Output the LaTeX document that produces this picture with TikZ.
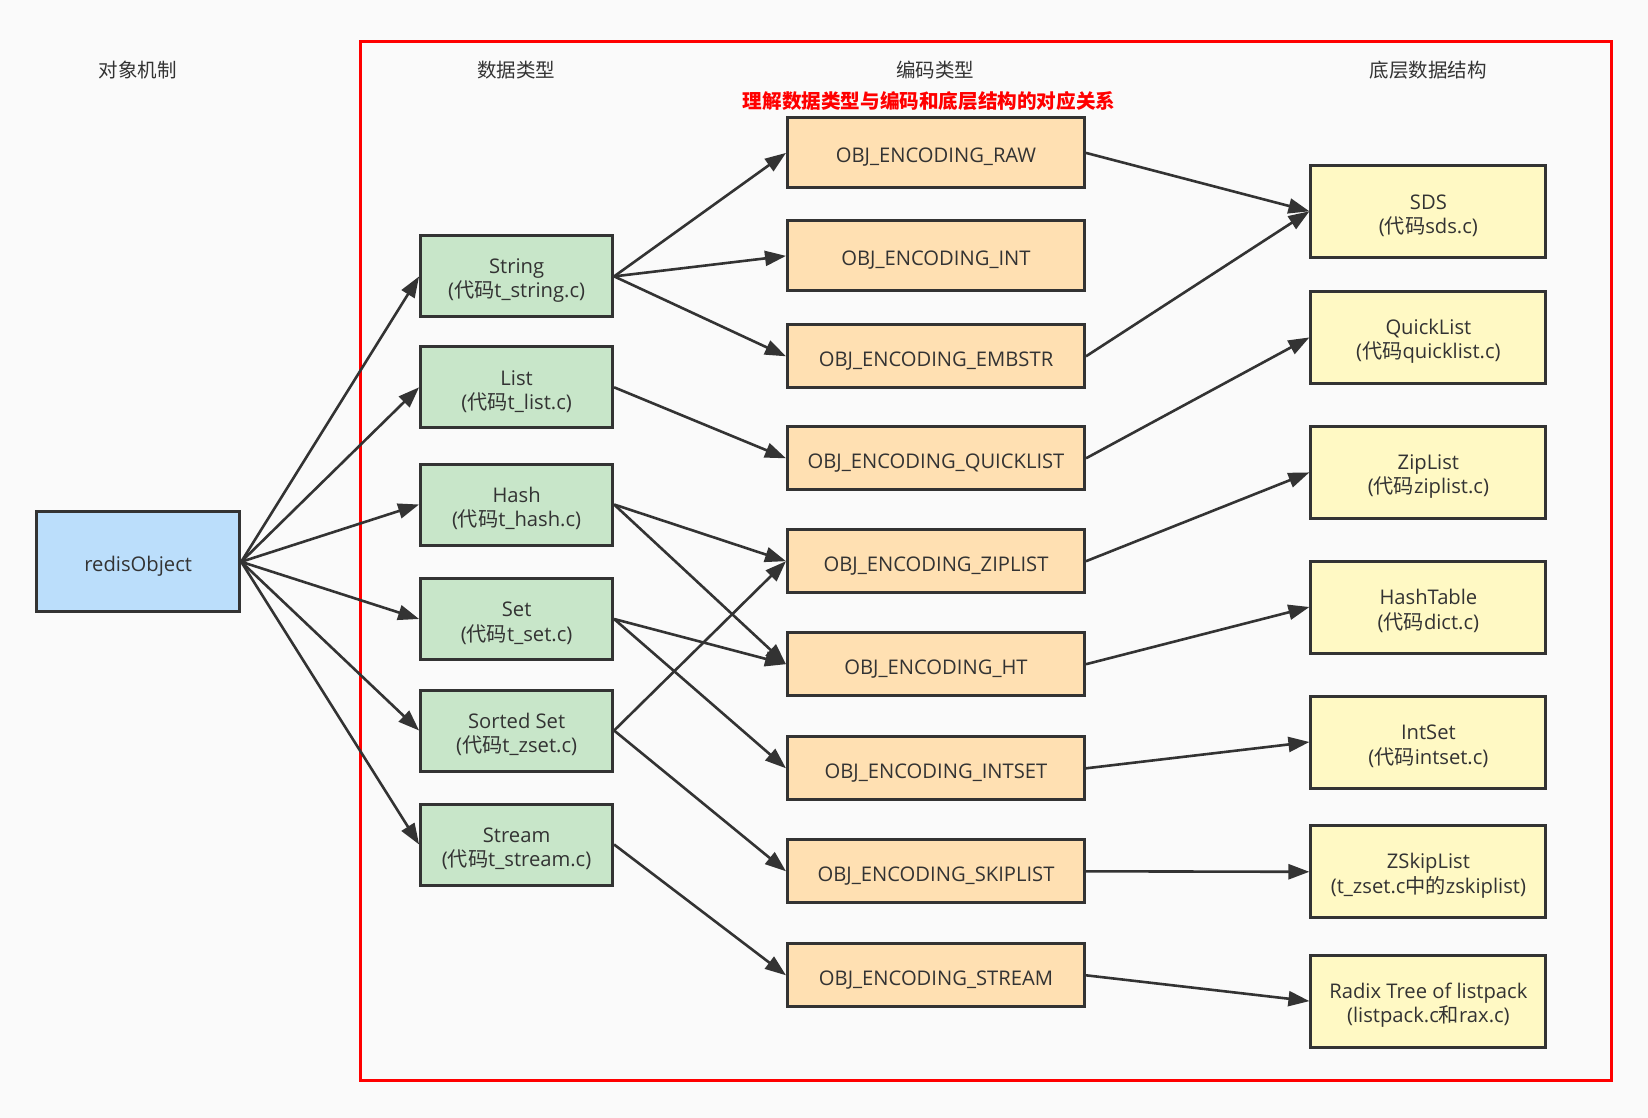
\documentclass[tikz,border=0pt]{standalone}
\usepackage{fontspec}
\setmainfont{Open Sans}
\newfontfamily\cjk{Noto Sans CJK SC}
\usetikzlibrary{arrows.meta}

\definecolor{bgcol}{HTML}{FAFAFA}
\definecolor{ink}{HTML}{333333}
\definecolor{objfill}{HTML}{BBDEFB}
\definecolor{typefill}{HTML}{C8E6C9}
\definecolor{encfill}{HTML}{FFE0B2}
\definecolor{structfill}{HTML}{FFF9C4}
\definecolor{frame}{HTML}{FF0000}

\newcommand{\zh}[1]{{\cjk #1}}
% strut that gives every first text line the same height
\newcommand{\toprow}{\rule{0pt}{23.5pt}}
\newcommand{\twolines}[2]{\toprow#1\\#2}

\begin{document}
\begin{tikzpicture}[x=1pt,y=-1pt,
  box/.style={draw=ink, line width=3pt, align=center, text=ink,
    font=\fontsize{20.2}{24.5}\selectfont, inner sep=0pt},
  objbox/.style={box, fill=objfill, minimum width=203pt, minimum height=100pt},
  typebox/.style={box, fill=typefill, minimum width=192pt, minimum height=81pt},
  encbox/.style={box, fill=encfill, minimum width=297pt, minimum height=63pt},
  structbox/.style={box, fill=structfill, minimum width=235pt, minimum height=92pt},
  header/.style={text=ink, font=\cjk\fontsize{19.5}{22}\selectfont, inner sep=0pt},
  link/.style={draw=ink, line width=2.6pt, -{Triangle[length=21pt,width=15pt]}}
]
\fill[bgcol] (0,0) rectangle (1648,1118);
\useasboundingbox (0,0) rectangle (1648,1118);

% group frame
\draw[frame, line width=3pt] (360.5,42) rectangle (1611,1080.5);

% column headers
\node[header] (h1) at (137.7,70.4) {对象机制};
\node[header] (h2) at (516,70.4) {数据类型};
\node[header] (h3) at (935.4,70.4) {编码类型};
\node[header] (h4) at (1428.3,70.4) {底层数据结构};
\node[text=frame, font=\cjk\bfseries\fontsize{19.6}{22}\selectfont, inner sep=0pt]
  (note) at (929,100.9) {理解数据类型与编码和底层结构的对应关系};

% object
\node[objbox] (obj) at (138.2,561.8) {\toprow redisObject};

% data types
\node[typebox] (str)  at (516.6,276.4) {\twolines{String}{(\zh{代码}t\_string.c)}};
\node[typebox] (lst)  at (516.6,387.3) {\twolines{List}{(\zh{代码}t\_list.c)}};
\node[typebox] (hsh)  at (516.6,504.5) {\twolines{Hash}{(\zh{代码}t\_hash.c)}};
\node[typebox] (set)  at (516.6,619.0) {\twolines{Set}{(\zh{代码}t\_set.c)}};
\node[typebox] (zst)  at (516.6,730.5) {\twolines{Sorted Set}{(\zh{代码}t\_zset.c)}};
\node[typebox] (stm)  at (516.6,844.5) {\twolines{Stream}{(\zh{代码}t\_stream.c)}};

% encodings
\node[encbox, minimum height=70pt] (eraw) at (936,152.9) {\toprow OBJ\_ENCODING\_RAW};
\node[encbox, minimum height=70pt] (eint) at (936,255.9) {\toprow OBJ\_ENCODING\_INT};
\node[encbox] (eemb) at (936,356.3) {\toprow OBJ\_ENCODING\_EMBSTR};
\node[encbox] (equl) at (936,458.3) {\toprow OBJ\_ENCODING\_QUICKLIST};
\node[encbox] (ezip) at (936,561.2) {\toprow OBJ\_ENCODING\_ZIPLIST};
\node[encbox] (eht)  at (936,664.2) {\toprow OBJ\_ENCODING\_HT};
\node[encbox] (eins) at (936,768.3) {\toprow OBJ\_ENCODING\_INTSET};
\node[encbox] (eskp) at (936,871.3) {\toprow OBJ\_ENCODING\_SKIPLIST};
\node[encbox] (estm) at (936,975.3) {\toprow OBJ\_ENCODING\_STREAM};

% underlying structures
\node[structbox] (sds)  at (1428.4,211.3) {\twolines{SDS}{(\zh{代码}sds.c)}};
\node[structbox] (sql)  at (1428.4,337.4) {\twolines{QuickList}{(\zh{代码}quicklist.c)}};
\node[structbox] (szl)  at (1428.4,472.4) {\twolines{ZipList}{(\zh{代码}ziplist.c)}};
\node[structbox] (sht)  at (1428.4,607.0) {\twolines{HashTable}{(\zh{代码}dict.c)}};
\node[structbox] (sis)  at (1428.4,742.0) {\twolines{IntSet}{(\zh{代码}intset.c)}};
\node[structbox] (ssk)  at (1428.4,871.8) {\twolines{ZSkipList}{(t\_zset.c\zh{中的}zskiplist)}};
\node[structbox] (srx)  at (1428.4,1001.1) {\twolines{Radix Tree of listpack}{(listpack.c\zh{和}rax.c)}};

% object -> data types
\foreach \t in {str,lst,hsh,set,zst,stm}
  \draw[link] (obj.east) -- (\t.west);

% data types -> encodings
\draw[link] (str.east) -- (eraw.west);
\draw[link] (str.east) -- (eint.west);
\draw[link] (str.east) -- (eemb.west);
\draw[link] (lst.east) -- (equl.west);
\draw[link] (hsh.east) -- (ezip.west);
\draw[link] (hsh.east) -- (eht.west);
\draw[link] (set.east) -- (eht.west);
\draw[link] (set.east) -- (eins.west);
\draw[link] (zst.east) -- (ezip.west);
\draw[link] (zst.east) -- (eskp.west);
\draw[link] (stm.east) -- (estm.west);

% encodings -> structures
\draw[link] (eraw.east) -- (sds.west);
\draw[link] (eemb.east) -- (sds.west);
\draw[link] (equl.east) -- (sql.west);
\draw[link] (ezip.east) -- (szl.west);
\draw[link] (eht.east)  -- (sht.west);
\draw[link] (eins.east) -- (sis.west);
\draw[link] (eskp.east) -- (ssk.west);
\draw[link] (estm.east) -- (srx.west);
\end{tikzpicture}
\end{document}
